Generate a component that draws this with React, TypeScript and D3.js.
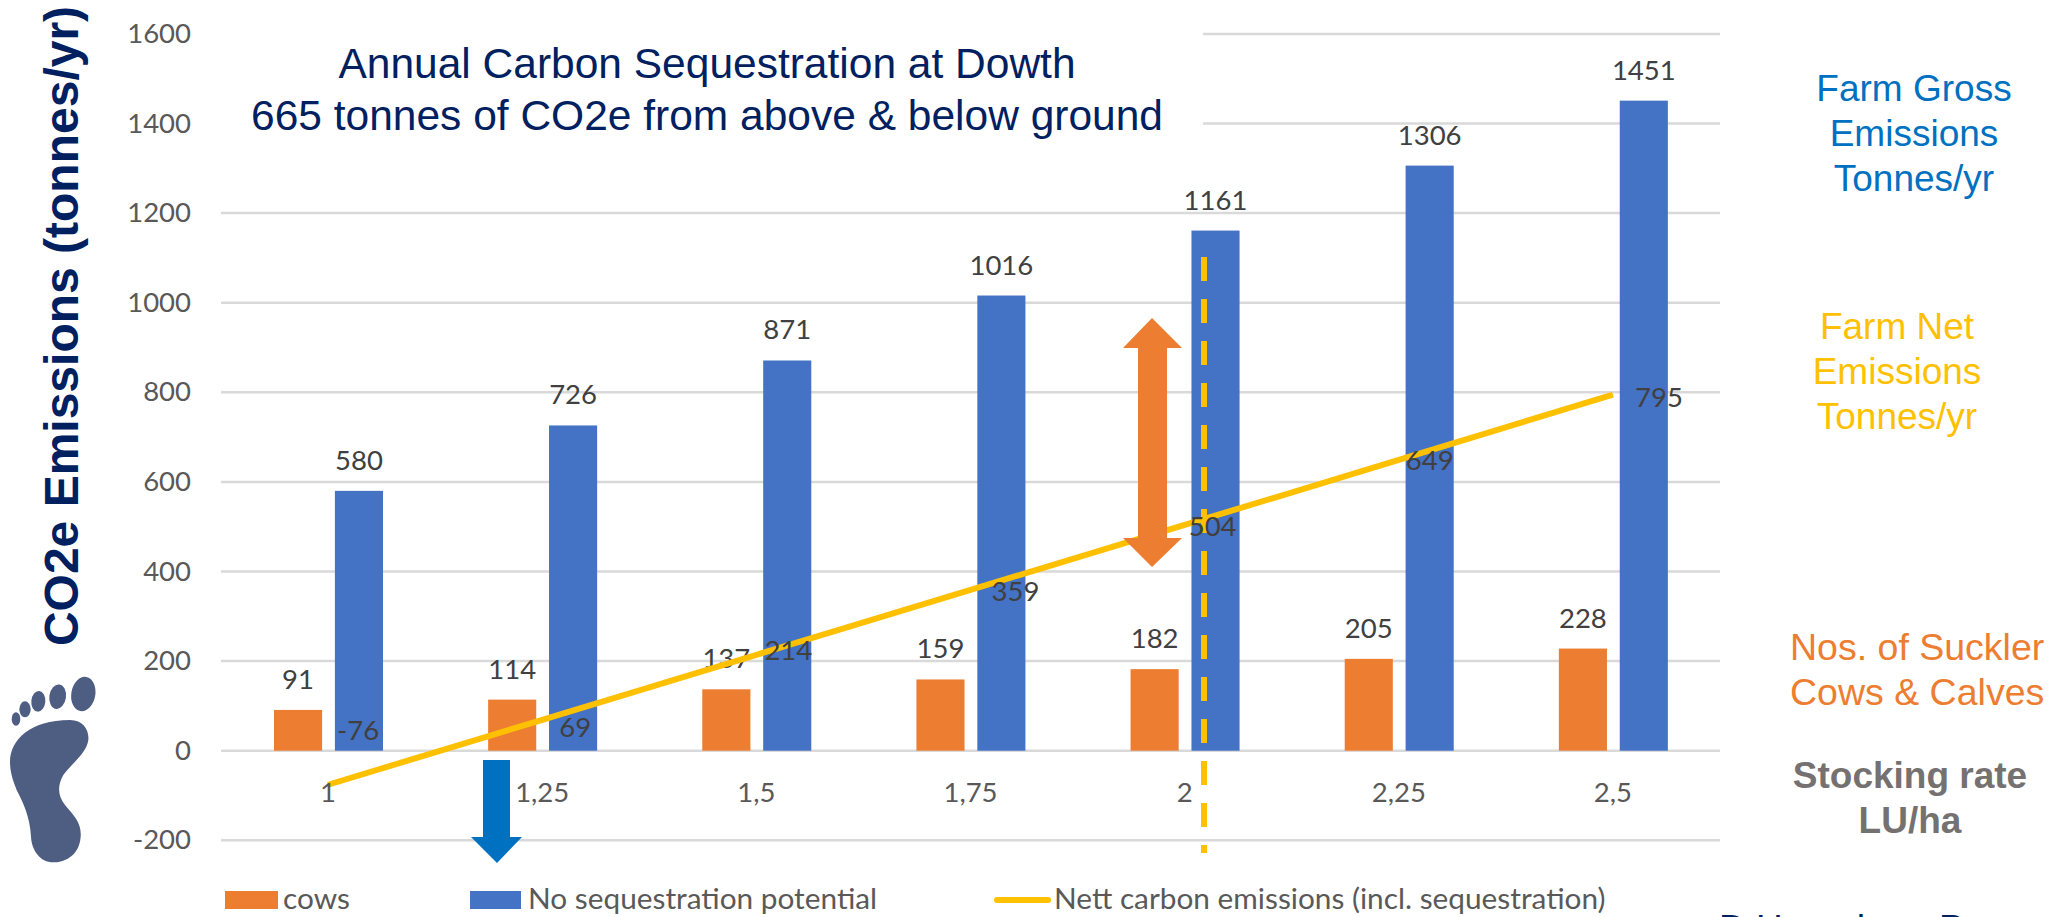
import React from "react";
import * as d3 from "d3";

const categories = ["1", "1,25", "1,5", "1,75", "2", "2,25", "2,5"];
const cows = [91, 114, 137, 159, 182, 205, 228];
const noSequestration = [580, 726, 871, 1016, 1161, 1306, 1451];
const nettEmissions = [-76, 69, 214, 359, 504, 649, 795];
const yTicks = [-200, 0, 200, 400, 600, 800, 1000, 1200, 1400, 1600];
const seriesNames = ["cows", "No sequestration potential", "Nett carbon emissions (incl. sequestration)"];

// layout only: manual placement of the line's data labels relative to their points
const lineLabelDx = [30, 33, 32, 45, 28, 31, 46];
const lineLabelDy = [-55, 7, -5, 1, 1, 0, 2];

const ORANGE = "#ED7D31";
const BLUE = "#4472C4";
const GOLD = "#FFC000";
const NAVY = "#002060";
const SANS = "'Liberation Sans', Arial, sans-serif";
const CHART = "Lato, sans-serif";
const CHART_SIZE = 27.5;
const LEGEND_SIZE = 29.8;

const x = d3.scaleBand<string>().domain(categories).range([221, 1720]);
const inner = d3.scaleBand<string>().domain(["cows", "blue"]).range([53, 162]).paddingInner(0.21);
const y = d3.scaleLinear().domain([-200, 1600]).range([840.3, 33.9]);
const cx = (c: string) => (x(c) as number) + x.bandwidth() / 2;
const line = d3
  .line<number>()
  .x((_, i) => cx(categories[i]))
  .y((d) => y(d));

function Text(p: any) {
  return <text fontFamily={SANS} {...p} />;
}

function Bars({ values, series, color }: { values: number[]; series: string; color: string }) {
  return (
    <g>
      {values.map((v, i) => {
        const bx = (x(categories[i]) as number) + (inner(series) as number);
        return (
          <g key={i}>
            <rect x={bx} y={y(v)} width={inner.bandwidth()} height={y(0) - y(v)} fill={color} />
            <text x={bx + inner.bandwidth() / 2} y={y(v) - 21} textAnchor="middle" fontFamily={CHART} fontSize={CHART_SIZE} fill="#404040">
              {v}
            </text>
          </g>
        );
      })}
    </g>
  );
}

export default function App() {
  return (
    <svg width={2072} height={917} style={{ position: "fixed", left: 0, top: 0, display: "block", background: "#fff" }}>
      {yTicks.map((t) => (
        <line key={t} x1={221} x2={1720} y1={y(t)} y2={y(t)} stroke="#D9D9D9" strokeWidth={2.5} />
      ))}
      <rect x={165} y={0} width={1038} height={200} fill="#fff" />
      {yTicks.map((t) => (
        <text key={t} x={191} y={y(t) + 9} textAnchor="end" fontFamily={CHART} fontSize={CHART_SIZE} fill="#595959">
          {t}
        </text>
      ))}

      <Bars values={cows} series="cows" color={ORANGE} />
      <Bars values={noSequestration} series="blue" color={BLUE} />

      <line x1={1204} x2={1204} y1={257} y2={853} stroke={GOLD} strokeWidth={6} strokeDasharray="24 18" />
      <path d={line(nettEmissions) as string} fill="none" stroke={GOLD} strokeWidth={6} />

      {categories.map((c) => (
        <text key={c} x={cx(c)} y={802} textAnchor="middle" fontFamily={CHART} fontSize={CHART_SIZE} fill="#595959">
          {c}
        </text>
      ))}

      {nettEmissions.map((v, i) => (
        <text
          key={i}
          x={cx(categories[i]) + lineLabelDx[i]}
          y={y(v) + lineLabelDy[i] + 10}
          textAnchor="middle"
          fontFamily={CHART}
          fontSize={CHART_SIZE}
          fill="#404040"
        >
          {v}
        </text>
      ))}

      {/* arrows */}
      <path d="M483 760H510V837H522L497 863L471 837H483Z" fill="#0070C0" />
      <path d="M1152 318L1182 348H1167V538H1182L1152 567L1123 538H1138V348H1123Z" fill={ORANGE} />

      {/* legend */}
      <rect x={225} y={891} width={53} height={18} fill={ORANGE} />
      <text x={283} y={909} fontFamily={CHART} fontSize={LEGEND_SIZE} fill="#595959">{seriesNames[0]}</text>
      <rect x={470} y={891} width={51} height={18} fill={BLUE} />
      <text x={528} y={909} fontFamily={CHART} fontSize={LEGEND_SIZE} fill="#595959">{seriesNames[1]}</text>
      <line x1={997} x2={1048} y1={900} y2={900} stroke={GOLD} strokeWidth={6} strokeLinecap="round" />
      <text x={1054} y={909} fontFamily={CHART} fontSize={LEGEND_SIZE} fill="#595959">{seriesNames[2]}</text>

      {/* titles */}
      <Text x={707} y={78} textAnchor="middle" fontSize={42.5} fill={NAVY}>Annual Carbon Sequestration at Dowth</Text>
      <Text x={707} y={130} textAnchor="middle" fontSize={42.5} fill={NAVY}>665 tonnes of CO2e from above &amp; below ground</Text>
      <Text transform="translate(78,326) rotate(-90)" textAnchor="middle" fontSize={48} fontWeight="bold" fill={NAVY}>
        CO2e Emissions (tonnes/yr)
      </Text>

      {/* side annotations */}
      <Text x={1914} y={101} fontSize={37} textAnchor="middle" fill="#0070C0">Farm Gross</Text>
      <Text x={1914} y={146} fontSize={37} textAnchor="middle" fill="#0070C0">Emissions</Text>
      <Text x={1914} y={191} fontSize={37} textAnchor="middle" fill="#0070C0">Tonnes/yr</Text>
      <Text x={1897} y={339} fontSize={37} textAnchor="middle" fill={GOLD}>Farm Net</Text>
      <Text x={1897} y={384} fontSize={37} textAnchor="middle" fill={GOLD}>Emissions</Text>
      <Text x={1897} y={429} fontSize={37} textAnchor="middle" fill={GOLD}>Tonnes/yr</Text>
      <Text x={1790} y={660} fontSize={37.5} fill={ORANGE}>Nos. of Suckler</Text>
      <Text x={1790} y={705} fontSize={37.5} fill={ORANGE}>Cows &amp; Calves</Text>
      <Text x={1910} y={788} fontSize={37} fontWeight="bold" textAnchor="middle" fill="#767171">Stocking rate</Text>
      <Text x={1910} y={833} fontSize={37} fontWeight="bold" textAnchor="middle" fill="#767171">LU/ha</Text>
      <Text x={1719} y={941} fontSize={37} fill={NAVY}>D.Hanrahan, Personal info</Text>

      {/* footprint */}
      <g transform="translate(0,660) scale(0.3333)" fill="#4E5D82">
        <ellipse cx={250} cy={102} rx={36} ry={52} transform="rotate(10 250 102)" />
        <ellipse cx={173} cy={110} rx={25} ry={37} transform="rotate(8 173 110)" />
        <ellipse cx={115} cy={124} rx={21} ry={31} transform="rotate(5 115 124)" />
        <ellipse cx={75} cy={148} rx={17} ry={24} />
        <ellipse cx={48} cy={177} rx={13} ry={20} />
        <path d="M30 305C30 240 90 180 210 180C250 180 268 210 265 240C260 280 215 310 190 345C170 380 175 410 195 435C225 470 245 490 242 530C238 590 190 607 160 607C120 607 95 570 93 530C90 470 70 430 50 390C38 360 30 335 30 305Z" />
      </g>
    </svg>
  );
}
